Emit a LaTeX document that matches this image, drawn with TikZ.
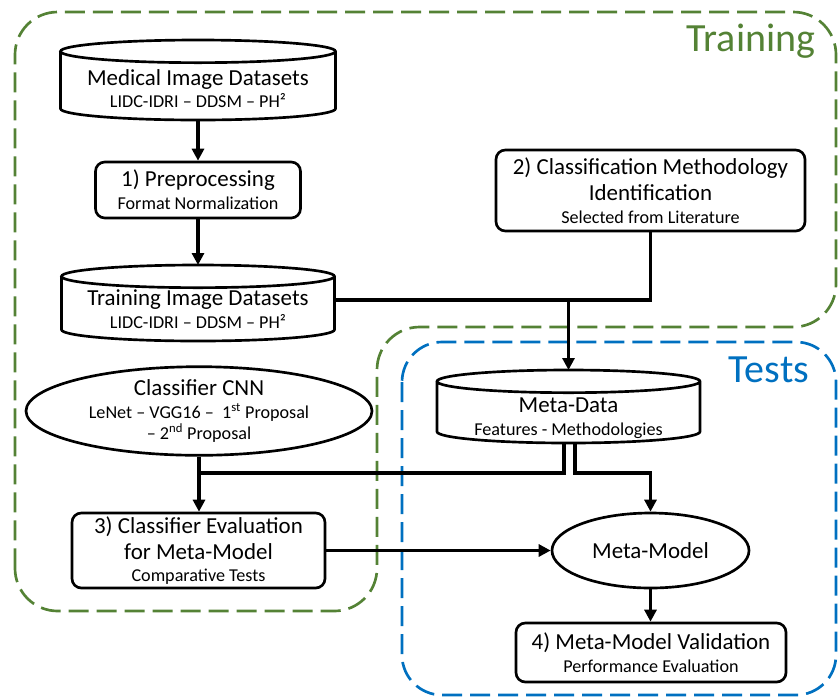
\documentclass[tikz,border=0pt]{standalone}
\usepackage{fontspec}
\setmainfont{Carlito}
\usetikzlibrary{arrows.meta,shapes.geometric,calc}
\definecolor{trgreen}{RGB}{84,130,53}
\definecolor{tsblue}{RGB}{0,112,192}
\newcommand{\mainf}{\fontsize{17.2}{19.5}\selectfont}
\newcommand{\subf}{\fontsize{13.6}{16}\selectfont}
\newcommand{\drawcyl}[2]{%
  \draw[cylline] ([yshift=-8.5pt]#1.north west) -- ([yshift=8.5pt]#1.south west)
    arc[start angle=180,end angle=360,x radius=#2,y radius=8.5pt]
    -- ([yshift=-8.5pt]#1.north east)
    arc[start angle=0,end angle=360,x radius=#2,y radius=8.5pt];}
\begin{document}
\begin{tikzpicture}[x=0.75pt,y=-0.75pt,
  box/.style={draw, line width=2pt, rounded corners=7pt, fill=white, align=center, font=\mainf, inner sep=0pt},
  cylbody/.style={inner sep=0pt, outer sep=0pt},
  cylline/.style={line width=2pt, fill=white},
  ell/.style={ellipse, draw, line width=2pt, fill=white, align=center, font=\mainf, inner sep=0pt},
  txt/.style={align=center, font=\mainf, inner sep=0pt},
  conn/.style={line width=2.6pt},
  arr/.style={conn, -{Triangle[width=9pt,length=9pt]}},
  frame/.style={line width=2pt, dash pattern=on 15pt off 6pt, rounded corners=32pt},
  framelbl/.style={font=\fontsize{30}{36}\selectfont, inner sep=0pt}]

\useasboundingbox (0,0) rectangle (838,697);

% frames
\draw[frame, trgreen] (15,611) -- (15,12) -- (836,12) -- (836,327) -- (377,327) -- (377,611) -- cycle;
\draw[frame, tsblue, rounded corners=30pt] (402,342) rectangle (836,695);
\node[framelbl, text=trgreen] (trainlbl) at (751,41) {Training};
\node[framelbl, text=tsblue] (testlbl) at (769,370) {Tests};

% cylinders
\node[cylbody, minimum width=206.25pt, minimum height=60pt] (med) at (198,80) {};
\drawcyl{med}{103.125pt}
\node[txt] (medtxt) at (198,88.5) {Medical Image Datasets\\[-2.4pt]{\subf LIDC-IDRI – DDSM – PH²}};

\node[cylbody, minimum width=204.75pt, minimum height=57pt] (train) at (198,303) {};
\drawcyl{train}{102.375pt}
\node[txt] (traintxt) at (198,309) {Training Image Datasets\\[-2.4pt]{\subf LIDC-IDRI – DDSM – PH²}};

\node[cylbody, minimum width=197.25pt, minimum height=54.75pt] (meta) at (568.5,406.5) {};
\drawcyl{meta}{98.625pt}
\node[txt] (metatxt) at (568.5,418) {Meta-Data\\[-2.4pt]{\subf Features - Methodologies}};

% boxes
\node[box, minimum width=153.75pt, minimum height=42pt] (prep) at (198,190)
  {1) Preprocessing\\[-2.4pt]{\subf Format Normalization}};
\node[box, minimum width=231.75pt, minimum height=60.75pt] (class) at (650.5,190.5)
  {2) Classification Methodology\\Identification\\[-2.4pt]{\subf Selected from Literature}};
\node[box, minimum width=189.75pt, minimum height=56.25pt] (eval) at (198.5,550.5)
  {3) Classifier Evaluation\\for Meta-Model\\[-2.4pt]{\subf Comparative Tests}};
\node[box, minimum width=202.5pt, minimum height=44.25pt] (valid) at (651,652.5)
  {4) Meta-Model Validation\\[-2.4pt]{\subf Performance Evaluation}};

% ellipses
\node[ell, minimum width=259.5pt, minimum height=66pt] (cnn) at (199,411)
  {Classifier CNN\\[-2.4pt]{\subf LeNet – VGG16 –~ 1\textsuperscript{st} Proposal}\\[-3.75pt]{\subf – 2\textsuperscript{nd} Proposal}};
\node[ell, minimum width=147.75pt, minimum height=56.25pt] (mm) at (650.5,550.5) {Meta-Model};

% junctions
\coordinate (j1) at (568,300);
\coordinate (j2) at (199,473);

% connectors
\draw[arr] (med.south) -- (med.south |- prep.north);
\draw[arr] (prep.south) -- (prep.south |- train.north);
\draw[conn] (class.south) |- (j1);
\draw[arr] (train.east |- j1) -| (meta.north);
\draw[conn] ([xshift=-3.4pt]meta.south) |- (j2);
\draw[arr] ([xshift=4.9pt]meta.south) |- (mm.north |- j2) -- (mm.north);
\draw[arr] (cnn.south) -- (cnn.south |- eval.north);
\draw[arr] (eval.east) -- (mm.west);
\draw[arr] (mm.south) -- (mm.south |- valid.north);
\end{tikzpicture}
\end{document}
